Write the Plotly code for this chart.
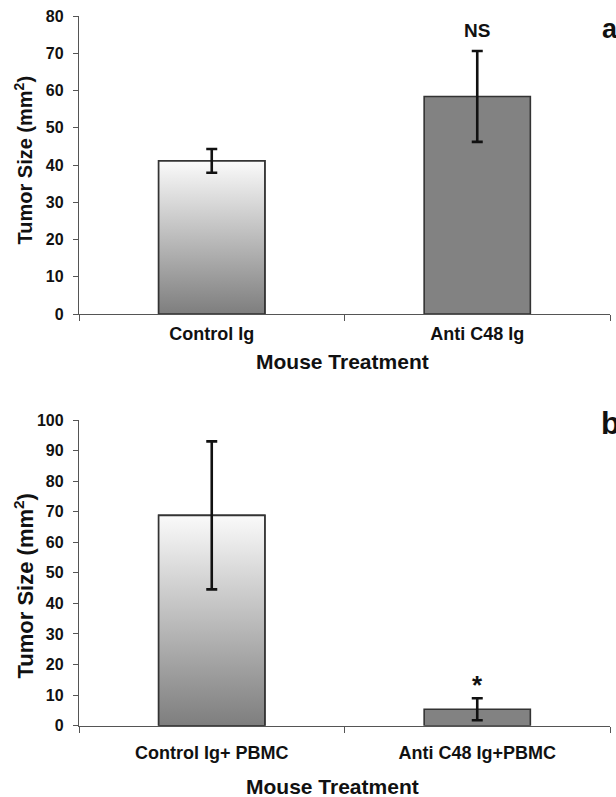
import plotly.graph_objects as go

# ---- data ----
cats_a = ["Control Ig", "Anti C48 Ig"]
means_a = [41.1, 58.4]
errs_a = [3.2, 12.2]

cats_b = ["Control Ig+ PBMC", "Anti C48 Ig+PBMC"]
means_b = [68.8, 5.4]
errs_b = [24.2, 3.6]

y_ticks_a = [0, 10, 20, 30, 40, 50, 60, 70, 80]
y_ticks_b = [0, 10, 20, 30, 40, 50, 60, 70, 80, 90, 100]

W, H = 616, 797
BAR_W = 0.4
FONT = "Liberation Sans"
OUTLINE = "#333333"
SOLID = "#828282"
GRAD = [[0, "#7e7e7e"], [1, "#fafafa"]]

fig = go.Figure()


def add_panel(cats, means, errs, xa, ya):
    idx = list(range(len(cats)))
    fig.add_trace(go.Bar(
        x=idx, y=means, width=BAR_W, xaxis=xa, yaxis=ya,
        marker=dict(color=[GRAD[0][1], SOLID], line=dict(color=OUTLINE, width=1.6)),
        showlegend=False, hoverinfo="skip"))
    # gradient fill for the control bar
    i, v = idx[0], means[0]
    fig.add_trace(go.Scatter(
        x=[i - BAR_W / 2, i + BAR_W / 2, i + BAR_W / 2, i - BAR_W / 2, i - BAR_W / 2],
        y=[0, 0, v, v, 0], xaxis=xa, yaxis=ya,
        mode="lines", fill="toself",
        fillgradient=dict(type="vertical", colorscale=GRAD),
        line=dict(color=OUTLINE, width=1.6),
        showlegend=False, hoverinfo="skip"))
    # error bars
    fig.add_trace(go.Scatter(
        x=idx, y=means, xaxis=xa, yaxis=ya, mode="markers",
        marker=dict(size=1, color="rgba(0,0,0,0)"),
        error_y=dict(type="data", array=errs, visible=True, color="#111111",
                     thickness=2.6, width=5.5),
        showlegend=False, hoverinfo="skip"))


add_panel(cats_a, means_a, errs_a, "x", "y")
add_panel(cats_b, means_b, errs_b, "x2", "y2")

xdom = [79 / W, 610 / W]
tickfont = dict(family=FONT, size=16, color="#111111", weight="bold")
catfont = dict(family=FONT, size=18, color="#111111", weight="bold")


def xaxis_cfg(cats, anchor, standoff):
    return dict(
        domain=xdom, anchor=anchor, range=[-0.5, len(cats) - 0.5],
        automargin=False,
        tickmode="array", tickvals=list(range(len(cats))), ticktext=cats,
        ticks="", tickfont=catfont, showgrid=False, zeroline=False,
        showline=True, linecolor="#555555", linewidth=1.3,
        ticklabelstandoff=standoff,
        minor=dict(tick0=-0.5, dtick=1, ticks="outside", ticklen=6,
                   tickcolor="#555555", tickwidth=1.2, showgrid=False),
        fixedrange=True)


def yaxis_cfg(ticks, dom, anchor):
    return dict(
        domain=dom, anchor=anchor, range=[0, ticks[-1]],
        automargin=False,
        tickmode="array", tickvals=ticks,
        ticks="outside", ticklen=5, tickcolor="#555555", tickwidth=1.2,
        tickfont=tickfont, showgrid=False, zeroline=False,
        showline=True, linecolor="#555555", linewidth=1.3,
        ticklabelstandoff=6, fixedrange=True)


fig.update_layout(
    width=W, height=H, margin=dict(l=0, r=0, t=0, b=0, pad=0),
    paper_bgcolor="white", plot_bgcolor="white",
    barmode="overlay", showlegend=False,
    xaxis=xaxis_cfg(cats_a, "y", 3),
    yaxis=yaxis_cfg(y_ticks_a, [1 - 314 / H, 1 - 16 / H], "x"),
    xaxis2=xaxis_cfg(cats_b, "y2", 11),
    yaxis2=yaxis_cfg(y_ticks_b, [1 - 725.7 / H, 1 - 420 / H], "x2"),
)

ann_font = dict(family=FONT, color="#111111", weight="bold")


def px_ann(text, x, y, size, angle=0, xanchor="center"):
    fig.add_annotation(text=text, xref="paper", yref="paper",
                       x=x / W, y=1 - y / H, xanchor=xanchor, yanchor="middle",
                       showarrow=False, textangle=angle,
                       font=dict(ann_font, size=size))


# axis titles
px_ann("Tumor Size (mm<sup>2</sup>)", 23, 160.5, 20, -90)
px_ann("Tumor Size (mm<sup>2</sup>)", 23, 586.5, 22, -90)
px_ann("Mouse Treatment", 342.5, 361, 21)
px_ann("Mouse Treatment", 332, 786, 21)
# panel letters (partly cut by the right edge, as in the original)
px_ann("a", 600, 29, 27, xanchor="left")
px_ann("b", 599, 424, 31, xanchor="left")

# significance marks above error bars
fig.add_annotation(text="NS", xref="x", yref="y", x=1, y=means_a[1] + errs_a[1],
                   yanchor="bottom", yshift=8, showarrow=False,
                   font=dict(ann_font, size=19))
fig.add_annotation(text="*", xref="x2", yref="y2", x=1, y=means_b[1] + errs_b[1],
                   yanchor="bottom", yshift=-4, showarrow=False,
                   font=dict(ann_font, size=26))

fig.write_html(
    "out.html",
    config={"displayModeBar": False},
    post_script="document.body.style.margin='0';document.body.style.overflow='hidden';",
)
